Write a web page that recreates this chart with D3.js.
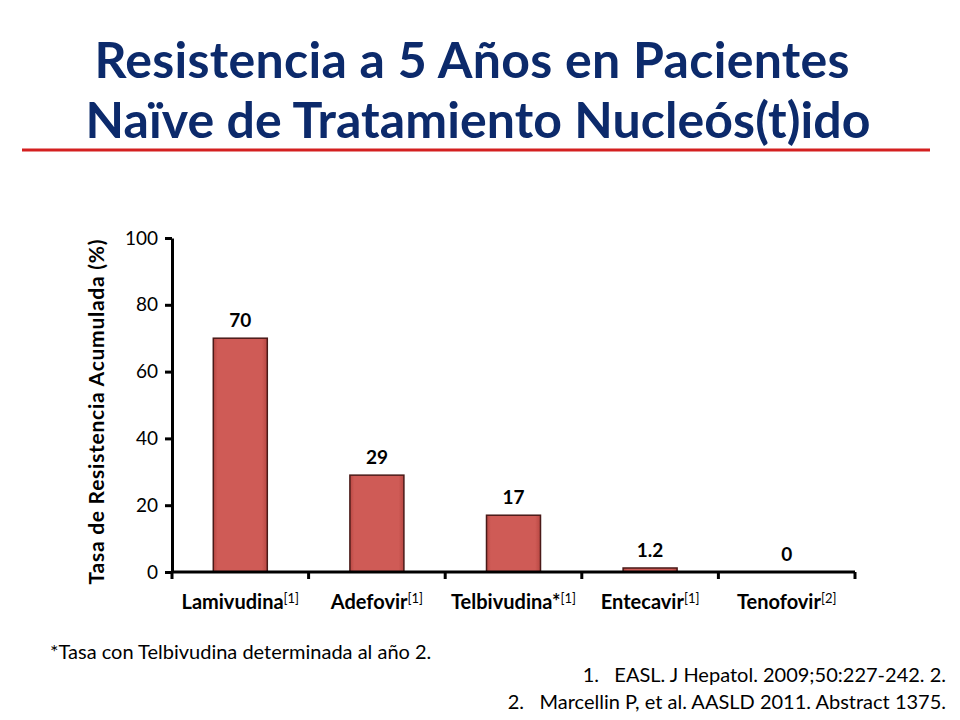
<!DOCTYPE html>
<html><head><meta charset="utf-8">
<script src="https://cdn.jsdelivr.net/npm/d3@7"></script>
<style>body{margin:0;background:#fff}svg{font-family:Lato,"Open Sans",sans-serif}</style>
</head><body><svg id="c" width="960" height="720"></svg>
<script>
const categories=["Lamivudina","Adefovir","Telbivudina*","Entecavir","Tenofovir"];
const refs=["[1]","[1]","[1]","[1]","[2]"];
const values=[70,29,17,1.2,0];
const valueLabels=["70","29","17","1.2","0"];
const yTicks=[0,20,40,60,80,100];

const svg=d3.select("#c");
const defs=svg.append("defs");
const g1=defs.append("linearGradient").attr("id","bg").attr("x1",0).attr("x2",1);
[[0,"#b84843"],[0.08,"#cf5b56"],[0.9,"#cf5b56"],[1,"#b84843"]].forEach(s=>g1.append("stop").attr("offset",s[0]).attr("stop-color",s[1]));

svg.append("text").attr("x",472).attr("y",78).attr("text-anchor","middle").attr("font-size",50).attr("font-weight","bold").attr("fill","#0c2a6b").attr("textLength",755).text("Resistencia a 5 Años en Pacientes");
svg.append("text").attr("x",478).attr("y",138).attr("text-anchor","middle").attr("font-size",50).attr("font-weight","bold").attr("fill","#0c2a6b").attr("textLength",785).text("Naïve de Tratamiento Nucleós(t)ido");
svg.append("line").attr("x1",22).attr("x2",930).attr("y1",150).attr("y2",150).attr("stroke","#d42020").attr("stroke-width",3);

const x=d3.scaleBand().domain(categories).range([172,855]).paddingInner(0).paddingOuter(0);
const y=d3.scaleLinear().domain([0,100]).range([572,238]);
const bw=54;

const ya=svg.append("g").attr("transform","translate(172,0)").call(d3.axisLeft(y).tickValues(yTicks).tickSize(7).tickSizeOuter(0));
ya.select(".domain").attr("stroke","#000").attr("stroke-width",3);
ya.selectAll(".tick line").attr("stroke-width",3);
ya.selectAll("text").attr("font-size",19).attr("font-family","Lato,'Open Sans',sans-serif").attr("x",-14);

svg.selectAll(".bar").data(values).enter().append("rect")
 .attr("x",(d,i)=>x(categories[i])+x.bandwidth()/2-bw/2).attr("width",bw)
 .attr("y",d=>y(d)).attr("height",d=>y(0)-y(d))
 .attr("fill","url(#bg)").attr("stroke","#4a1a18").attr("stroke-width",1.5);

svg.selectAll(".vl").data(values).enter().append("text")
 .attr("x",(d,i)=>x(categories[i])+x.bandwidth()/2).attr("y",d=>y(d)-11)
 .attr("text-anchor","middle").attr("font-size",19).attr("font-weight","bold").text((d,i)=>valueLabels[i]);

const xa=svg.append("g").attr("transform","translate(0,572)");
xa.append("line").attr("x1",172).attr("x2",855).attr("stroke","#000").attr("stroke-width",3);
const bounds=categories.map(c=>x(c)).concat([855]);
xa.selectAll(".tk").data(bounds).enter().append("line").attr("x1",d=>d).attr("x2",d=>d).attr("y1",0).attr("y2",7).attr("stroke","#000").attr("stroke-width",3);
const lt=xa.selectAll(".xl").data(categories).enter().append("text")
 .attr("x",c=>x(c)+x.bandwidth()/2).attr("y",37).attr("text-anchor","middle").attr("font-size",20).attr("font-weight","bold");
lt.append("tspan").text(c=>c);
lt.append("tspan").attr("dy",-6).attr("font-size",13).attr("font-weight","normal").text((c,i)=>refs[i]);

svg.append("text").attr("transform","translate(104,412) rotate(-90)").attr("text-anchor","middle").attr("font-size",21).attr("font-weight","bold").attr("textLength",345).text("Tasa de Resistencia Acumulada (%)");

svg.append("text").attr("x",50).attr("y",659).attr("font-size",20).text("*Tasa con Telbivudina determinada al año 2.");
svg.append("text").attr("x",946).attr("y",682).attr("text-anchor","end").attr("font-size",20).attr("xml:space","preserve").text("1.   EASL. J Hepatol. 2009;50:227-242. 2.");
svg.append("text").attr("x",946).attr("y",709).attr("text-anchor","end").attr("font-size",20).attr("xml:space","preserve").text("2.   Marcellin P, et al. AASLD 2011. Abstract 1375.");
</script></body></html>
